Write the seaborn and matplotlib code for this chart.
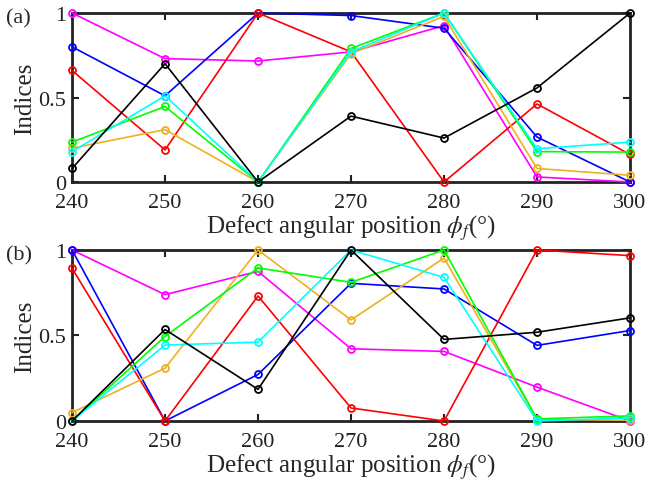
import matplotlib
matplotlib.use("Agg")
import matplotlib.pyplot as plt
import numpy as np
import pandas as pd
import seaborn as sns

phi = [240, 250, 260, 270, 280, 290, 300]
series_names = ["magenta", "blue", "red", "orange", "green", "cyan", "black"]
colors = {
    "magenta": "#ff00ff",
    "blue": "#0000ff",
    "red": "#ff0000",
    "orange": "#edb120",
    "green": "#00ff00",
    "cyan": "#00ffff",
    "black": "#000000",
}

# panel (a)
a_magenta = [1.00, 0.73, 0.716, 0.77, 0.925, 0.03, 0.00]
a_blue = [0.80, 0.51, 1.00, 0.985, 0.91, 0.266, 0.00]
a_red = [0.66, 0.19, 1.00, 0.77, 0.00, 0.462, 0.163]
a_orange = [0.20, 0.31, 0.00, 0.76, 0.98, 0.08, 0.04]
a_green = [0.236, 0.447, 0.00, 0.79, 1.00, 0.18, 0.177]
a_cyan = [0.18, 0.51, 0.00, 0.77, 1.00, 0.197, 0.236]
a_black = [0.08, 0.70, 0.00, 0.39, 0.26, 0.557, 1.00]

# panel (b)
b_magenta = [1.00, 0.739, 0.875, 0.422, 0.407, 0.198, 0.00]
b_blue = [1.00, 0.00, 0.272, 0.805, 0.772, 0.442, 0.529]
b_red = [0.893, 0.00, 0.731, 0.076, 0.00, 1.00, 0.967]
b_orange = [0.049, 0.309, 1.00, 0.591, 0.953, 0.01, 0.004]
b_green = [0.00, 0.494, 0.895, 0.811, 1.00, 0.012, 0.03]
b_cyan = [0.00, 0.444, 0.461, 1.00, 0.840, 0.00, 0.018]
b_black = [0.00, 0.535, 0.185, 1.00, 0.477, 0.519, 0.603]

panel_a = dict(zip(series_names, [a_magenta, a_blue, a_red, a_orange, a_green, a_cyan, a_black]))
panel_b = dict(zip(series_names, [b_magenta, b_blue, b_red, b_orange, b_green, b_cyan, b_black]))

sns.set_style("ticks")
plt.rcParams["font.family"] = "serif"
plt.rcParams["font.serif"] = ["Liberation Serif", "Times New Roman", "DejaVu Serif"]
plt.rcParams["mathtext.fontset"] = "stix"

fig = plt.figure(figsize=(6.62, 4.81), dpi=100)
ax_a = fig.add_axes([0.1088, 0.6195, 0.8429, 0.3514])
ax_b = fig.add_axes([0.1088, 0.1227, 0.8429, 0.3555])


def draw_panel(ax, panel, tag):
    for name in series_names:
        df = pd.DataFrame({"phi": phi, "val": panel[name]})
        c = colors[name]
        sns.lineplot(data=df, x="phi", y="val", ax=ax, color=c, linewidth=1.2,
                     marker="o", markersize=5, markerfacecolor="none",
                     markeredgecolor=c, markeredgewidth=1.3, legend=False,
                     clip_on=False, zorder=3)
    ax.set_xlim(240, 300)
    ax.set_ylim(0, 1)
    ax.set_xticks(phi)
    ax.set_yticks([0, 0.5, 1])
    ax.set_yticklabels(["0", "0.5", "1"])
    ax.tick_params(direction="in", length=5, width=1.5, labelsize=16,
                   top=True, right=True, colors="#222222")
    ax.tick_params(axis="x", pad=8)
    ax.tick_params(axis="y", pad=4)
    for s in ax.spines.values():
        s.set_linewidth(2)
        s.set_color("#222222")
        s.set_zorder(2)
    ax.set_xlabel(r"Defect angular position $\phi_f$(°)", fontsize=18, labelpad=0)
    ax.set_ylabel("Indices", fontsize=18, labelpad=2)
    ax.text(-0.118, 0.97, tag, transform=ax.transAxes, fontsize=16, va="center", ha="left")


draw_panel(ax_a, panel_a, "(a)")
draw_panel(ax_b, panel_b, "(b)")

fig.savefig("out.png", dpi=100)
